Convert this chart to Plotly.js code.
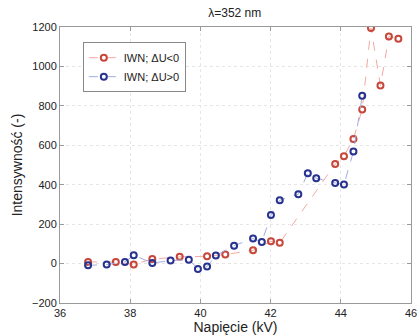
<!DOCTYPE html>
<html><head><meta charset="utf-8">
<script src="https://cdn.plot.ly/plotly-3.0.1.min.js"></script>
<style>html,body{margin:0;padding:0;background:#fff}#c{width:417px;height:336px}</style>
</head><body><div id="c"></div>
<script>
const redV = [36.80,37.59,38.10,38.63,39.41,40.19,40.71,41.50,42.01,42.26,43.84,44.09,44.36,44.61,44.86,45.13,45.37,45.64];
const redI = [8,8,-5,23,34,37,46,67,113,105,505,545,632,782,1195,903,1152,1140];
const blueV = [36.80,37.33,37.85,38.10,38.63,39.15,39.67,39.93,40.19,40.44,40.96,41.50,41.75,42.01,42.26,42.79,43.06,43.30,43.84,44.09,44.36,44.61];
const blueI = [-9,-5,8,42,3,15,20,-27,-15,41,91,127,110,246,321,352,458,433,409,401,568,851];
const xTicks = [36,38,40,42,44,46];
const yTicks = [-200,0,200,400,600,800,1000,1200];
const names = ['IWN; ΔU<0','IWN; ΔU>0'];

const traces = [
 {x: redV, y: redI, name: names[0], mode:'lines+markers', type:'scatter',
  line:{color:'#f4a8a2', width:1, dash:'dash'},
  marker:{symbol:'circle-open', size:6, color:'#c8463a', line:{width:2, color:'#c8463a'}}},
 {x: blueV, y: blueI, name: names[1], mode:'lines+markers', type:'scatter',
  line:{color:'#a2acdf', width:1, dash:'dash'},
  marker:{symbol:'circle-open', size:6, color:'#28328f', line:{width:2, color:'#28328f'}}}
];
const axBase = {showline:true, mirror:'ticks', linecolor:'#9a9a9a', linewidth:1,
  ticks:'inside', ticklen:4, tickcolor:'#9a9a9a', zeroline:false,
  showgrid:true, gridcolor:'#e6e6e6', griddash:'dot', gridwidth:1,
  ticklabeloverflow:'allow',
  tickfont:{family:'Liberation Sans, Arial, sans-serif', size:11, color:'#222'}};
const layout = {
  width:417, height:336, margin:{l:60, r:6, t:27, b:33},
  paper_bgcolor:'#fff', plot_bgcolor:'#fff',
  title:{text:'λ=352 nm', x:0.563, xanchor:'center', y:0.962, yanchor:'middle',
    font:{family:'Liberation Sans, Arial, sans-serif', size:12, color:'#222'}},
  xaxis:Object.assign({}, axBase, {range:[36,46], tickvals:xTicks,
    title:{text:'Napięcie (kV)', standoff:2, font:{family:'Liberation Sans, Arial, sans-serif', size:14, color:'#222'}}}),
  yaxis:Object.assign({}, axBase, {range:[-200,1200], tickvals:yTicks,
    title:{text:'Intensywność (-)', standoff:6, font:{family:'Liberation Sans, Arial, sans-serif', size:14, color:'#222'}}}),
  showlegend:true,
  legend:{x:0.065, y:0.945, xanchor:'left', yanchor:'top', bgcolor:'#fff',
    bordercolor:'#888', borderwidth:1, tracegroupgap:0, itemwidth:30,
    font:{family:'Liberation Sans, Arial, sans-serif', size:11, color:'#222'}}
};
Plotly.newPlot('c', traces, layout, {displayModeBar:false, staticPlot:true});
</script></body></html>
